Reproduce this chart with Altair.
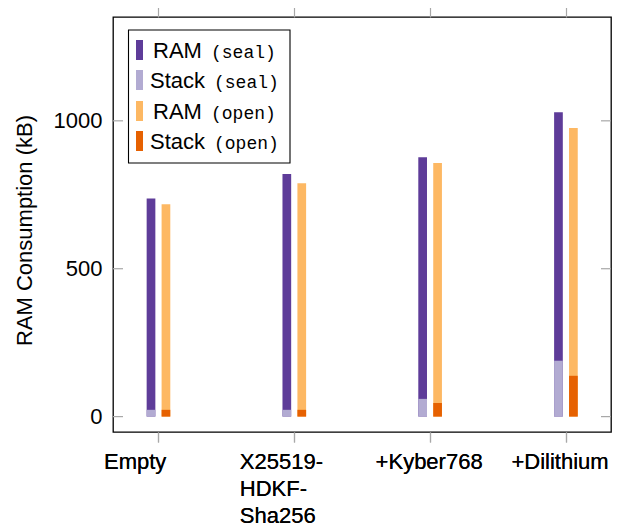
import json
import altair as alt
import pandas as pd

# ---- data ----
categories = ["Empty", "X25519-\nHDKF-\nSha256", "+Kyber768", "+Dilithium"]
ram_seal = [737, 820, 877, 1029]
stack_seal = [23, 23, 60, 189]
ram_open = [718, 789, 857, 976]
stack_open = [23, 23, 46, 138]
y_ticks = [0, 500, 1000]
legend_labels = [("RAM", "(seal)"), ("Stack", "(seal)"), ("RAM", "(open)"), ("Stack", "(open)")]
series_colors = ["#5e3c99", "#b2abd2", "#fdb863", "#e66101"]

W, H = 498, 415
SHIFT = 0.055
FONT = "Liberation Sans"
MONO = "Liberation Mono"
FS = 22

rows = []
for i, c in enumerate(categories):
    rows.append({"pos": i - SHIFT, "v": ram_seal[i], "s": "ram_seal", "layer": 0})
    rows.append({"pos": i + SHIFT, "v": ram_open[i], "s": "ram_open", "layer": 0})
    rows.append({"pos": i - SHIFT, "v": stack_seal[i], "s": "stack_seal", "layer": 1})
    rows.append({"pos": i + SHIFT, "v": stack_open[i], "s": "stack_open", "layer": 1})
df = pd.DataFrame(rows)

xscale = alt.Scale(domain=[-0.298, 3.295], nice=False, zero=False)
yscale = alt.Scale(domain=[-52, 1351], nice=False, zero=False)
cscale = alt.Scale(domain=["ram_seal", "stack_seal", "ram_open", "stack_open"], range=series_colors)

label_lines = [c.split("\n") for c in categories]
label_expr = json.dumps(label_lines) + "[datum.value]"

xaxis = alt.Axis(
    orient="bottom",
    values=list(range(len(categories))), labelExpr=label_expr, title=None,
    labelAlign="left", labelOffset=-55, labelBaseline="alphabetic",
    labelFontSize=FS, labelFont=FONT, labelColor="black", labelLineHeight=27,
    labelPadding=26, tickSize=10, tickColor="#a8a8a8", tickWidth=1.2,
    domain=False, grid=False, labelOverlap=False, labelBound=False, labelFlush=False,
)
xaxis_top = alt.Axis(
    orient="top", values=list(range(len(categories))), labels=False, title=None,
    tickSize=10, tickColor="#a8a8a8", tickWidth=1.2, domain=False, grid=False)
yaxis = alt.Axis(
    values=y_ticks, format="d", title="RAM Consumption (kB)", ticks=False, domain=False, grid=False,
    labelFontSize=FS, labelFont=FONT, labelColor="black", labelPadding=11,
    titleFontSize=FS, titleFont=FONT, titleFontWeight="normal", titleColor="black",
    titleX=-82, titleY=213, titleAlign="center", titleBaseline="alphabetic",
)

def bars(layer):
    return alt.Chart(df[df.layer == layer]).mark_bar(size=8.7).encode(
        x=alt.X("pos:Q", scale=xscale, axis=xaxis),
        y=alt.Y("v:Q", scale=yscale, axis=yaxis),
        y2=alt.datum(0),
        color=alt.Color("s:N", scale=cscale, legend=None),
    )

# top axis ticks (outside) at category positions
top_axis = alt.Chart(pd.DataFrame({"pos": list(range(len(categories)))})).mark_point(opacity=0).encode(
    x=alt.X("pos:Q", scale=xscale, axis=xaxis_top),
)

# inner y ticks on left and right
tick_df = pd.DataFrame({"v": y_ticks})
ytick_left = alt.Chart(tick_df).mark_rule(color="#a8a8a8", strokeWidth=1.2).encode(
    y=alt.Y("v:Q", scale=yscale, axis=yaxis), x=alt.value(0), x2=alt.value(10))
ytick_right = alt.Chart(tick_df).mark_rule(color="#a8a8a8", strokeWidth=1.2).encode(
    y=alt.Y("v:Q", scale=yscale, axis=yaxis), x=alt.value(W - 10), x2=alt.value(W))

# custom legend
leg_box = alt.Chart(pd.DataFrame({"a": [0]})).mark_rect(
    fill="white", stroke="black", strokeWidth=1.1).encode(
    x=alt.value(15.5), x2=alt.value(177), y=alt.value(13), y2=alt.value(146))
legend_layers = [leg_box]
row_y = [33, 63, 94, 124]
sans_x = [40, 37, 40, 37]
mono_x = [98, 101, 98, 101]
for k, (a, b) in enumerate(legend_labels):
    one = pd.DataFrame({"a": [0]})
    legend_layers.append(alt.Chart(one).mark_rect(color=series_colors[k]).encode(
        x=alt.value(23), x2=alt.value(30), y=alt.value(row_y[k] - 10), y2=alt.value(row_y[k] + 10)))
    legend_layers.append(alt.Chart(one).mark_text(
        text=a, font=FONT, fontSize=FS, align="left", baseline="alphabetic", color="black").encode(
        x=alt.value(sans_x[k]), y=alt.value(row_y[k] + 8)))
    legend_layers.append(alt.Chart(one).mark_text(
        text=b, font=MONO, fontSize=18, align="left", baseline="alphabetic", color="black").encode(
        x=alt.value(mono_x[k]), y=alt.value(row_y[k] + 8)))

chart = alt.layer(
    bars(0), bars(1), top_axis, ytick_left, ytick_right, *legend_layers
).resolve_scale(color="shared", x="shared", y="shared").resolve_axis(x="independent").properties(
    width=W, height=H,
    autosize=alt.AutoSizeParams(type="none"),
    padding={"left": 105, "top": 9, "right": 2, "bottom": 97},
).configure(font=FONT).configure_view(stroke="black", strokeWidth=1.3)

chart.save("out.html", embed_options={"renderer": "svg", "actions": False})
